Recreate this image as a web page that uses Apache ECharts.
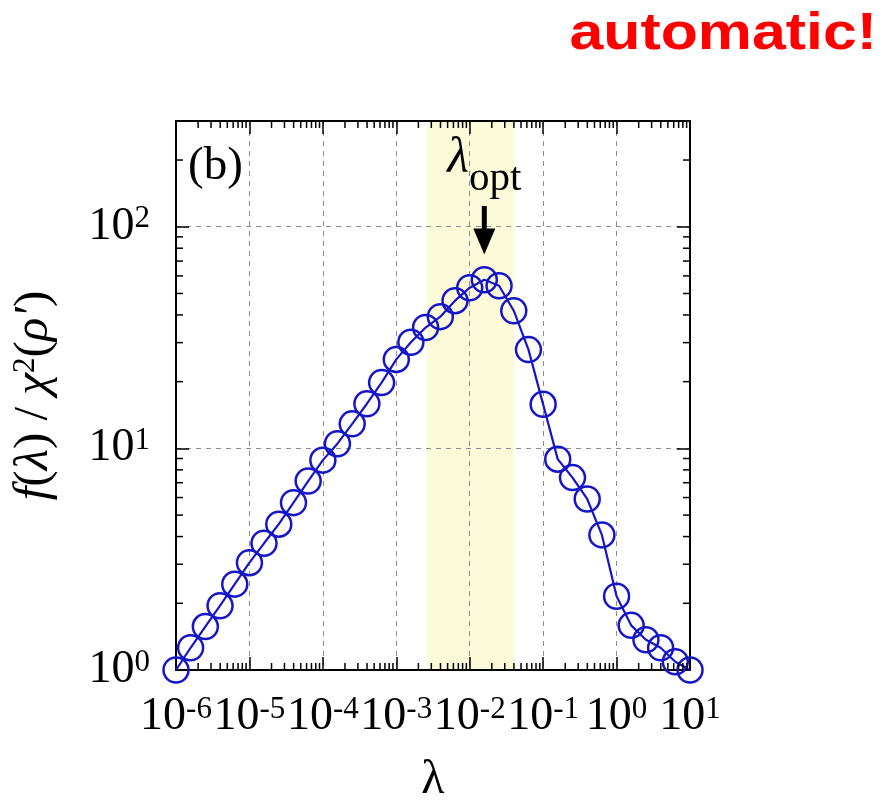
<!DOCTYPE html>
<html>
<head>
<meta charset="utf-8">
<title>f(λ) / χ²(ρ′)</title>
<script src="https://cdn.jsdelivr.net/npm/echarts@6/dist/echarts.min.js"></script>
<style>
  html, body { margin: 0; padding: 0; background: #ffffff; }
  #chart { width: 883px; height: 802px; }
</style>
</head>
<body>
<div id="chart"></div>
<script>
// Regularisation parameter λ (five points per decade) and the ratio f(λ)/χ²(ρ′)
const lambdaValues = [
  1e-6, 1.58e-6, 2.51e-6, 3.98e-6, 6.31e-6,
  1e-5, 1.58e-5, 2.51e-5, 3.98e-5, 6.31e-5,
  1e-4, 1.58e-4, 2.51e-4, 3.98e-4, 6.31e-4,
  1e-3, 1.58e-3, 2.51e-3, 3.98e-3, 6.31e-3,
  1e-2, 1.58e-2, 2.51e-2, 3.98e-2, 6.31e-2,
  0.1, 0.158, 0.251, 0.398, 0.631,
  1, 1.58, 2.51, 3.98, 6.31,
  10
];
const ratioValues = [
  1.0, 1.26, 1.57, 1.95, 2.44,
  3.05, 3.73, 4.55, 5.69, 7.12,
  8.85, 10.5, 12.9, 15.9, 19.8,
  25.2, 30.1, 35.1, 39.3, 46.4,
  53.1, 57.7, 54.2, 41.8, 27.9,
  15.8, 8.94, 7.38, 5.91, 4.07,
  2.15, 1.59, 1.37, 1.26, 1.09,
  1.0
];

// Optimal λ, the shaded window around it and the arrow pointing at the peak
const lambdaOpt = 0.0158;
const optimalBand = [2.6e-3, 0.0405];
const arrowRange = [124, 75];

// Axis ranges and decade tick labels (exponents of 10)
const xRange = [1e-6, 10];
const yRange = [1, 300];
const xTickExponents = [-6, -5, -4, -3, -2, -1, 0, 1];
const yTickExponents = [0, 1, 2];
const xDecades = [1e-6, 1e-5, 1e-4, 1e-3, 1e-2, 1e-1, 1];
const yDecades = [1, 10, 100];
const minorMultipliers = [2, 3, 4, 5, 6, 7, 8, 9];

const serif = "'Liberation Serif', 'Times New Roman', serif";
const ink = '#000000';
const curveBlue = '#1616c8';
const gridGrey = '#8c8c8c';
const bandYellow = '#fbfbd9';

const points = lambdaValues.map((l, i) => [l, ratioValues[i]]);

function minorValues(decades, limit) {
  const out = [];
  decades.forEach(d => minorMultipliers.forEach(m => {
    const v = d * m;
    if (v < limit) out.push(v);
  }));
  return out;
}
const xMinor = minorValues(xDecades, xRange[1]);
const yMinor = minorValues(yDecades, yRange[1]);

function powerLabel(exponents) {
  return function (value) {
    const e = Math.log10(value);
    const r = Math.round(e);
    if (Math.abs(e - r) > 1e-6 || exponents.indexOf(r) < 0) return '';
    return '{b|10}{s|' + r + '}';
  };
}
const labelRich = {
  b: { fontFamily: serif, fontSize: 46, color: ink, lineHeight: 46 },
  s: { fontFamily: serif, fontSize: 31, color: ink, lineHeight: 24, verticalAlign: 'top' }
};

const majorTick = { show: true, inside: true, length: 13, lineStyle: { color: ink, width: 1.5 } };
const frameLine = { show: true, onZero: false, lineStyle: { color: ink, width: 2 } };
const dashedGrid = { show: true, lineStyle: { color: gridGrey, width: 1, type: [5, 5] } };

const chart = echarts.init(document.getElementById('chart'), null, { renderer: 'canvas' });

chart.setOption({
  animation: false,
  backgroundColor: '#ffffff',
  textStyle: { fontFamily: serif },
  grid: { left: 176, right: 193, top: 121, bottom: 132, containLabel: false, outerBoundsMode: 'none' },
  xAxis: [
    {
      type: 'log', logBase: 10, min: xRange[0], max: xRange[1], position: 'bottom',
      axisLine: frameLine, axisTick: majorTick, splitLine: dashedGrid,
      axisLabel: { margin: 24, formatter: powerLabel(xTickExponents), rich: labelRich },
      name: 'λ', nameLocation: 'middle', nameGap: 86, nameMoveOverlap: false,
      nameTextStyle: { fontFamily: serif, fontSize: 48, color: ink, lineHeight: 48 }
    },
    {
      type: 'log', logBase: 10, min: xRange[0], max: xRange[1], position: 'top',
      axisLine: frameLine, axisTick: majorTick, splitLine: { show: false },
      axisLabel: { show: false }
    }
  ],
  yAxis: [
    {
      type: 'log', logBase: 10, min: yRange[0], max: yRange[1], position: 'left',
      axisLine: frameLine, axisTick: majorTick, splitLine: dashedGrid,
      axisLabel: { margin: 26, formatter: powerLabel(yTickExponents), rich: labelRich },
      name: '{i|f}{n|(}{i|λ}{n|) / }{i|χ}{sup|2}{n|(}{i|ρ′}{n|)}',
      nameLocation: 'middle', nameGap: 118, nameRotate: 90, nameMoveOverlap: false,
      nameTextStyle: {
        color: ink,
        rich: {
          i: { fontFamily: serif, fontSize: 49, fontStyle: 'italic', color: ink, lineHeight: 48 },
          n: { fontFamily: serif, fontSize: 49, color: ink, lineHeight: 48 },
          sup: { fontFamily: serif, fontSize: 31, color: ink, lineHeight: 28, verticalAlign: 'top' }
        }
      }
    },
    {
      type: 'log', logBase: 10, min: yRange[0], max: yRange[1], position: 'right',
      axisLine: frameLine, axisTick: majorTick, splitLine: { show: false },
      axisLabel: { show: false }
    }
  ],
  graphic: [
    {
      type: 'text', x: 877, y: 35, scaleX: 1.17, silent: true,
      style: {
        x: 0, y: 0, text: 'automatic!', fill: '#ff0000', align: 'right', verticalAlign: 'middle',
        font: "bold 52px 'Liberation Sans', Arial, sans-serif"
      }
    },
    {
      type: 'text', x: 188, y: 167, silent: true,
      style: { text: '(b)', fill: ink, align: 'left', verticalAlign: 'middle', font: '47px ' + serif }
    },
    {
      type: 'text', x: 458, y: 159, silent: true,
      style: { text: 'λ', fill: ink, align: 'center', verticalAlign: 'middle', font: 'italic 50px ' + serif }
    },
    {
      type: 'text', x: 469, y: 179, silent: true,
      style: { text: 'opt', fill: ink, align: 'left', verticalAlign: 'middle', font: '41px ' + serif }
    }
  ],
  series: [
    {
      // shaded window of near-optimal λ, kept beneath the dashed grid
      name: 'band', type: 'line', data: [], z: -1, silent: true,
      markArea: {
        silent: true, z: -1,
        itemStyle: { color: bandYellow },
        data: [[{ xAxis: optimalBand[0] }, { xAxis: optimalBand[1] }]]
      }
    },
    {
      name: 'ratio', type: 'line', data: points, z: 4,
      showAllSymbol: true, symbol: 'circle', symbolSize: 25,
      itemStyle: { color: 'rgba(0,0,0,0)', borderColor: curveBlue, borderWidth: 2.5 },
      lineStyle: { color: curveBlue, width: 2.2 },
      emphasis: { disabled: true }
    },
    {
      // minor ticks on the bottom and top edges
      name: 'xMinor', type: 'custom', silent: true, z: 5, clip: false,
      data: xMinor.map(v => [v, 1]),
      renderItem(params, api) {
        const cs = params.coordSys;
        const px = api.coord([api.value(0), 1])[0];
        const bottom = cs.y + cs.height;
        const st = { stroke: ink, lineWidth: 1.5 };
        return {
          type: 'group', children: [
            { type: 'line', shape: { x1: px, y1: bottom, x2: px, y2: bottom - 7 }, style: st },
            { type: 'line', shape: { x1: px, y1: cs.y, x2: px, y2: cs.y + 7 }, style: st }
          ]
        };
      }
    },
    {
      // minor ticks on the left and right edges
      name: 'yMinor', type: 'custom', silent: true, z: 5, clip: false,
      data: yMinor.map(v => [xRange[0], v]),
      renderItem(params, api) {
        const cs = params.coordSys;
        const py = api.coord([xRange[0], api.value(1)])[1];
        const right = cs.x + cs.width;
        const st = { stroke: ink, lineWidth: 1.5 };
        return {
          type: 'group', children: [
            { type: 'line', shape: { x1: cs.x, y1: py, x2: cs.x + 7, y2: py }, style: st },
            { type: 'line', shape: { x1: right, y1: py, x2: right - 7, y2: py }, style: st }
          ]
        };
      }
    },
    {
      // arrow marking λ_opt
      name: 'arrow', type: 'custom', silent: true, z: 6, clip: false,
      data: [[lambdaOpt, arrowRange[0], arrowRange[1]]],
      encode: { x: 0, y: 1 },
      renderItem(params, api) {
        const tail = api.coord([api.value(0), api.value(1)]);
        const tip = api.coord([api.value(0), api.value(2)]);
        const headLen = 26, halfW = 11, halfShaft = 2.5;
        return {
          type: 'group', children: [
            {
              type: 'rect',
              shape: { x: tail[0] - halfShaft, y: tail[1], width: halfShaft * 2, height: tip[1] - headLen - tail[1] + 1 },
              style: { fill: ink }
            },
            {
              type: 'polygon',
              shape: { points: [[tip[0] - halfW, tip[1] - headLen], [tip[0] + halfW, tip[1] - headLen], [tip[0], tip[1]]] },
              style: { fill: ink }
            }
          ]
        };
      }
    }
  ]
});
</script>
</body>
</html>
